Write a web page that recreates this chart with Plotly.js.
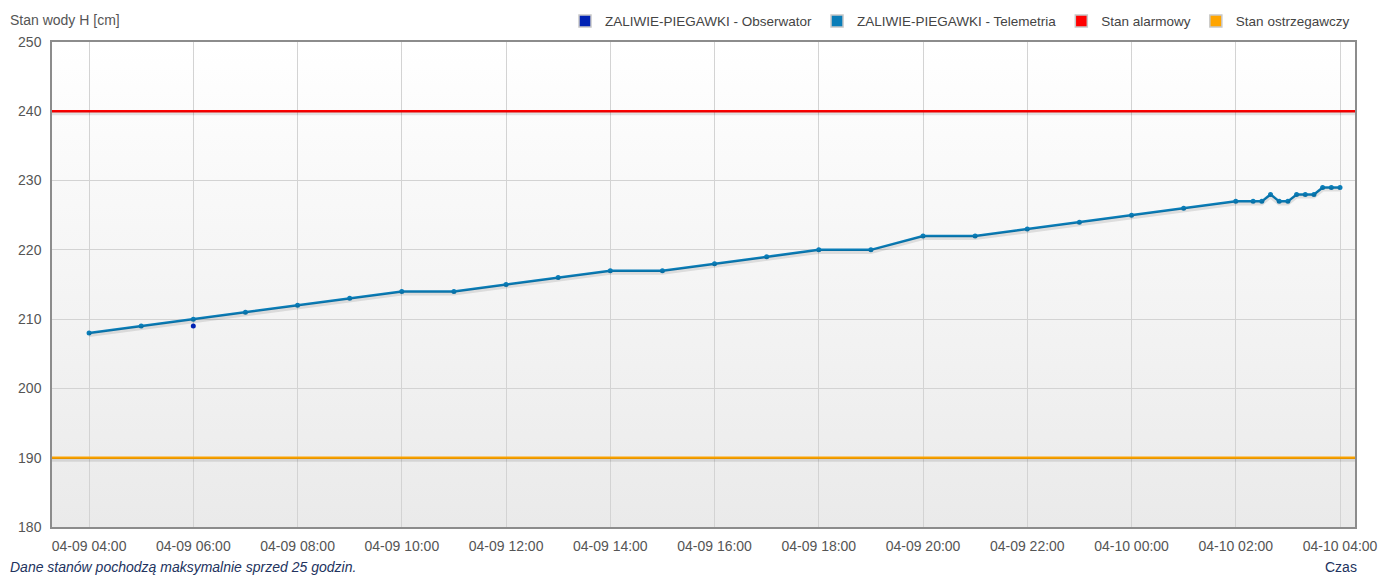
<!DOCTYPE html>
<html>
<head>
<meta charset="utf-8">
<script src="https://cdn.plot.ly/plotly-3.0.1.min.js"></script>
<style>
  html, body { margin: 0; padding: 0; background: #ffffff; }
  #chart { width: 1381px; height: 576px; }
</style>
</head>
<body>
<div id="chart"></div>
<script>
// ---- data ----
const telemetryTimes = [
  '2023-04-09 04:00', '2023-04-09 05:00', '2023-04-09 06:00', '2023-04-09 07:00',
  '2023-04-09 08:00', '2023-04-09 09:00', '2023-04-09 10:00', '2023-04-09 11:00',
  '2023-04-09 12:00', '2023-04-09 13:00', '2023-04-09 14:00', '2023-04-09 15:00',
  '2023-04-09 16:00', '2023-04-09 17:00', '2023-04-09 18:00', '2023-04-09 19:00',
  '2023-04-09 20:00', '2023-04-09 21:00', '2023-04-09 22:00', '2023-04-09 23:00',
  '2023-04-10 00:00', '2023-04-10 01:00', '2023-04-10 02:00', '2023-04-10 02:20',
  '2023-04-10 02:30', '2023-04-10 02:40', '2023-04-10 02:50', '2023-04-10 03:00',
  '2023-04-10 03:10', '2023-04-10 03:20', '2023-04-10 03:30', '2023-04-10 03:40',
  '2023-04-10 03:50', '2023-04-10 04:00'
];
const telemetryLevels = [
  208, 209, 210, 211,
  212, 213, 214, 214,
  215, 216, 217, 217,
  218, 219, 220, 220,
  222, 222, 223, 224,
  225, 226, 227, 227,
  227, 228, 227, 227,
  228, 228, 228, 229,
  229, 229
];
const observerTimes = ['2023-04-09 06:00'];
const observerLevels = [209];
const alarmLevel = 240;
const warningLevel = 190;
const timeRange = ['2023-04-09 03:17:20', '2023-04-10 04:17:15'];
const levelRange = [180, 250];

const seriesNames = {
  observer: 'ZALIWIE-PIEGAWKI - Obserwator',
  telemetry: 'ZALIWIE-PIEGAWKI - Telemetria',
  alarm: 'Stan alarmowy',
  warning: 'Stan ostrzegawczy'
};
const colors = {
  observer: '#0022b4',
  telemetry: '#0a7db8',
  alarm: '#ff0000',
  warning: '#ffa500'
};

// ---- traces ----
const shadowShift = 0.3; // in level units, used by the shadow axis
const shadow = 'rgba(0,0,0,0.10)';
const traces = [];

// shadows (drawn on an overlaid axis shifted slightly)
traces.push({
  x: timeRange, y: [alarmLevel, alarmLevel], yaxis: 'y2', mode: 'lines',
  line: {color: shadow, width: 4}, showlegend: false, hoverinfo: 'skip'
});
traces.push({
  x: timeRange, y: [warningLevel, warningLevel], yaxis: 'y2', mode: 'lines',
  line: {color: shadow, width: 4}, showlegend: false, hoverinfo: 'skip'
});
traces.push({
  x: telemetryTimes, y: telemetryLevels, yaxis: 'y2', mode: 'lines',
  line: {color: shadow, width: 4}, showlegend: false, hoverinfo: 'skip'
});

// main lines
traces.push({
  x: timeRange, y: [alarmLevel, alarmLevel], mode: 'lines', name: seriesNames.alarm,
  legendgroup: 'alarm', showlegend: false,
  line: {color: colors.alarm, width: 2.5}
});
traces.push({
  x: timeRange, y: [warningLevel, warningLevel], mode: 'lines', name: seriesNames.warning,
  legendgroup: 'warning', showlegend: false,
  line: {color: colors.warning, width: 2.5}
});
traces.push({
  x: telemetryTimes, y: telemetryLevels, mode: 'lines+markers', name: seriesNames.telemetry,
  legendgroup: 'telemetry', showlegend: false,
  line: {color: colors.telemetry, width: 2.5},
  marker: {color: colors.telemetry, size: 5}
});
traces.push({
  x: observerTimes, y: observerLevels, mode: 'markers', name: seriesNames.observer,
  legendgroup: 'observer', showlegend: false,
  marker: {color: colors.observer, size: 5}
});

// legend entries with square swatches (no visible bars: null values)
['observer', 'telemetry', 'alarm', 'warning'].forEach(function (k) {
  traces.push({
    type: 'bar', x: [null], y: [null], name: seriesNames[k], legendgroup: k,
    marker: {color: colors[k], line: {color: '#c8c8c8', width: 1.5}},
    hoverinfo: 'skip'
  });
});

// background gradient for plot area
const bgSvg = '<svg xmlns="http://www.w3.org/2000/svg" width="10" height="100" preserveAspectRatio="none">' +
  '<defs><linearGradient id="g" x1="0" y1="0" x2="0" y2="1">' +
  '<stop offset="0" stop-color="#ffffff"/><stop offset="1" stop-color="#eaeaea"/>' +
  '</linearGradient></defs><rect width="10" height="100" fill="url(#g)"/></svg>';

const font = 'Liberation Sans, Arial, sans-serif';
const layout = {
  width: 1381, height: 576,
  margin: {l: 52, r: 26, t: 42, b: 49, autoexpand: false},
  paper_bgcolor: '#ffffff',
  plot_bgcolor: 'rgba(0,0,0,0)',
  font: {family: font, size: 14, color: '#555555'},
  title: {
    text: 'Stan wody H [cm]',
    font: {family: font, size: 14, color: '#555555'},
    xref: 'container', yref: 'container',
    x: 10 / 1381, xanchor: 'left',
    y: 1 - 20 / 576, yanchor: 'middle'
  },
  showlegend: true,
  legend: {
    orientation: 'h', traceorder: 'normal',
    x: 1, xanchor: 'right', y: 1.043, yanchor: 'middle',
    font: {family: font, size: 13.5, color: '#444444'},
    bgcolor: 'rgba(0,0,0,0)', itemclick: 'toggle'
  },
  xaxis: {
    type: 'date', range: timeRange,
    dtick: 2 * 3600 * 1000, tick0: '2023-04-09 04:00',
    tickformat: '%m-%d %H:%M',
    showgrid: true, gridcolor: '#d3d3d3', gridwidth: 1,
    showline: true, mirror: true, linecolor: '#8c8c8c', linewidth: 1.5,
    zeroline: false, ticks: '', ticklabelstandoff: 5,
    tickfont: {family: font, size: 14, color: '#555555'}
  },
  yaxis: {
    range: levelRange, dtick: 10,
    showgrid: true, gridcolor: '#d3d3d3', gridwidth: 1,
    showline: true, mirror: true, linecolor: '#8c8c8c', linewidth: 1.5,
    zeroline: false, ticks: '', ticklabelstandoff: 6,
    tickfont: {family: font, size: 14, color: '#555555'}
  },
  yaxis2: {
    overlaying: 'y', visible: false,
    range: [levelRange[0] + shadowShift, levelRange[1] + shadowShift]
  },
  images: [{
    source: 'data:image/svg+xml;charset=utf-8,' + encodeURIComponent(bgSvg),
    xref: 'paper', yref: 'paper', x: 0, y: 1, sizex: 1, sizey: 1,
    xanchor: 'left', yanchor: 'top', sizing: 'stretch', layer: 'below'
  }],
  annotations: [
    {
      text: '<i>Dane stanów pochodzą maksymalnie sprzed 25 godzin.</i>',
      xref: 'paper', yref: 'paper', x: -44 / 1303, xanchor: 'left',
      y: -40 / 485, yanchor: 'middle', showarrow: false,
      font: {family: font, size: 14, color: '#22335e'}
    },
    {
      text: 'Czas',
      xref: 'paper', yref: 'paper', x: 1.003, xanchor: 'right',
      y: -40 / 485, yanchor: 'middle', showarrow: false,
      font: {family: font, size: 14, color: '#22335e'}
    }
  ]
};

Plotly.newPlot('chart', traces, layout, {displayModeBar: false, responsive: false});
</script>
</body>
</html>
